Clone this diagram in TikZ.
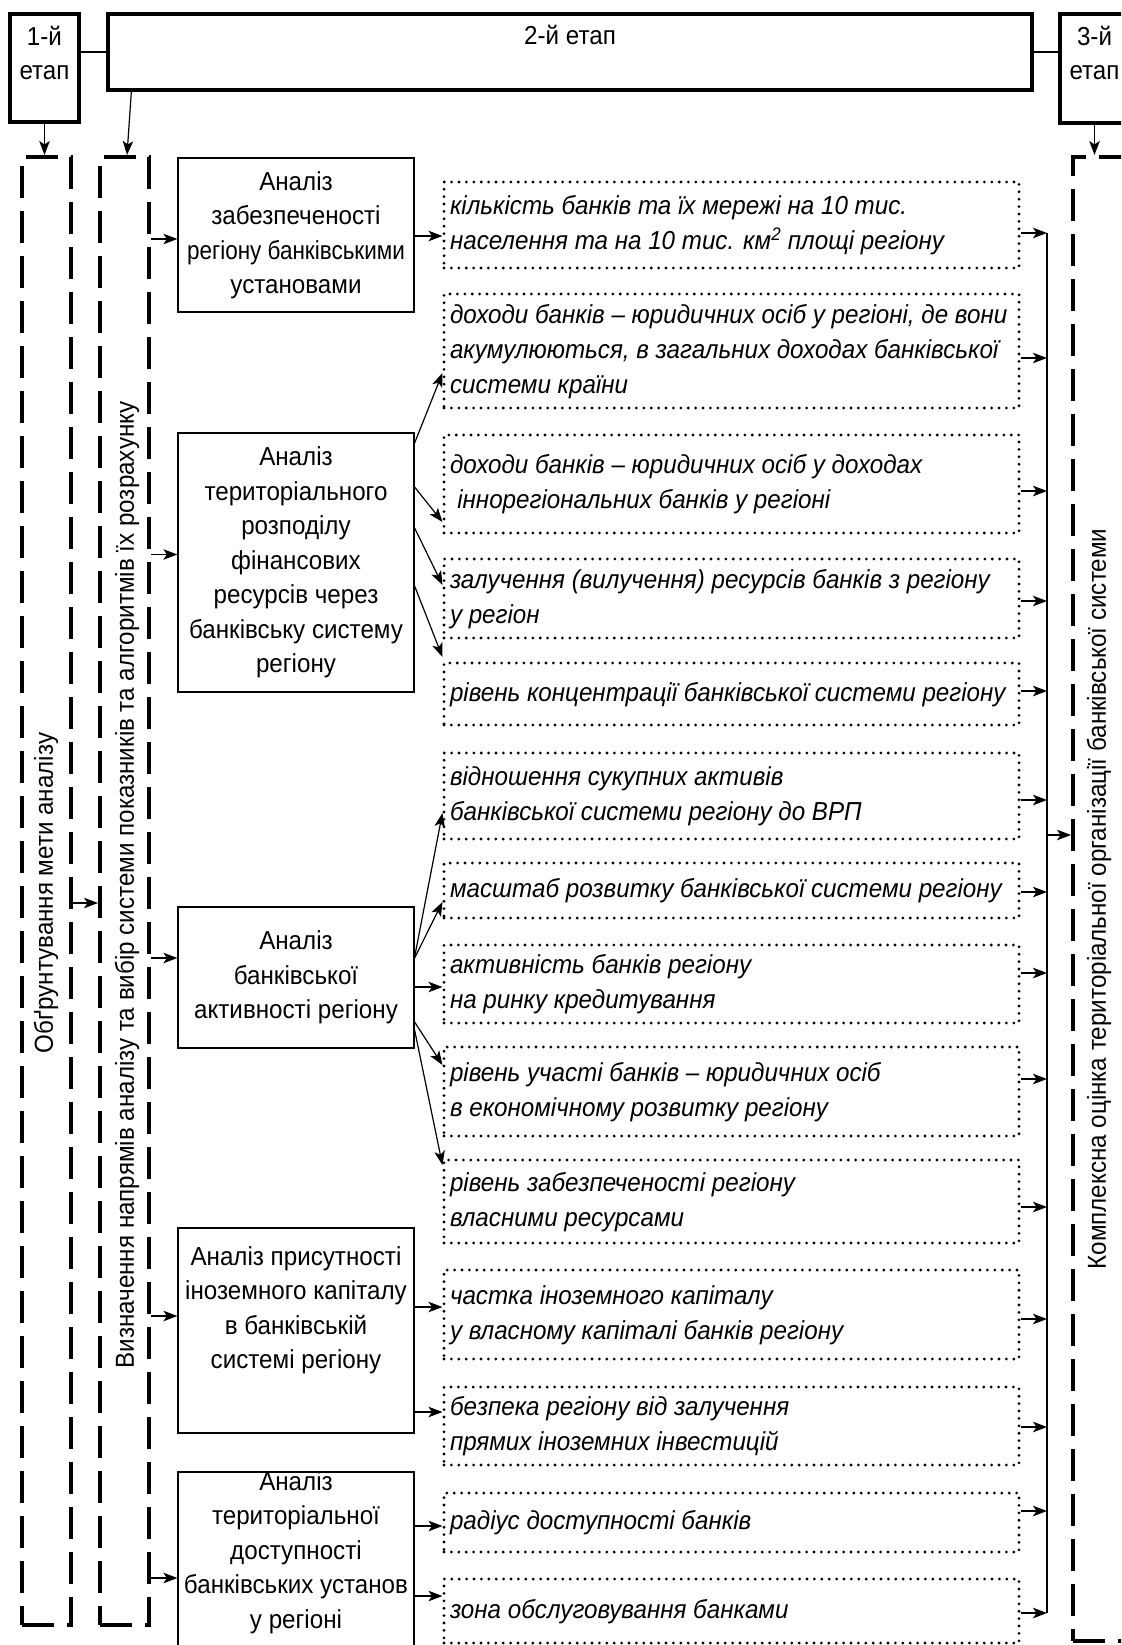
\documentclass[tikz,border=0pt]{standalone}
\usepackage{fontspec}
\usepackage{graphicx}
\setmainfont{Liberation Sans}[FakeStretch=0.93]
\usetikzlibrary{arrows.meta}
\newcommand{\ctab}[1]{\begin{tabular}{@{}c@{}}#1\end{tabular}}
\newcommand{\ltab}[1]{\begin{tabular}{@{}l@{}}#1\end{tabular}}
\newcommand{\toptext}[4]{\parbox[c][#2pt][t]{#1pt}{\centering\vspace*{#3pt}\ctab{#4}}}
\begin{document}
\begin{tikzpicture}[x=1pt,y=-1pt,
  font=\fontsize{26pt}{34.5pt}\selectfont,
  stagebox/.style={draw, line width=3.3pt, inner sep=0pt},
  anbox/.style={draw, line width=1.2pt, inner sep=0pt, minimum width=236pt},
  dotbox/.style={draw, line width=3.1pt, line cap=round, dash pattern=on 0pt off 7.4pt,
                 inner xsep=6pt, inner ysep=0pt, font=\fontsize{26pt}{35pt}\selectfont\itshape},
  dashbox/.style={draw, line width=4pt, dash pattern=on 32pt off 13pt, inner sep=0pt},
  vlabel/.style={rotate=90, inner sep=0pt},
  ln/.style={line width=1.2pt},
  arr/.style={line width=1.2pt, -{Stealth[length=14pt,width=10.5pt,inset=3.5pt]}}]
\useasboundingbox (0,0) rectangle (1121,1645);
\clip (0,0) rectangle (1121,1645);

% stages
\node[stagebox] (S1) at (44.5,68) {\toptext{69}{108}{7}{1-й\\етап}};
\node[stagebox] (S2) at (570,52) {\toptext{924}{76}{6}{2-й етап}};
\node[stagebox] (S3) at (1094.5,68.5) {\toptext{69}{109}{7}{3-й\\етап}};
\draw[ln] (S2.west) -- (S2.west -| S1.east);
\draw[ln] (S2.east) -- (S2.east -| S3.west);

% dashed columns
\node[dashbox, minimum width=49pt, minimum height=1468pt] (B1) at (46.5,891) {};
\node[dashbox, minimum width=49pt, minimum height=1468pt] (B2) at (124.5,891) {};
\node[dashbox, minimum width=52pt, minimum height=1484pt] (B3) at (1099,899) {};
\node[vlabel] (T1) at (46,893) {Обґрунтування мети аналізу};
\node[vlabel] (T2) at (127,885) {Визначення напрямів аналізу та вибір системи показників та алгоритмів їх розрахунку};
\node[vlabel] (T3) at (1099,899) {Комплексна оцінка територіальної організації банківської системи};

\draw[arr] (S1.south) -- (S1.south |- B1.north);
\draw[arr] ([xshift=25pt]S2.south west) -- ([xshift=29pt]B2.north west);
\draw[arr] (S3.south) -- (S3.south |- B3.north);
\draw[arr] ([yshift=-12pt]B1.east) -- ([yshift=-12pt]B1.east -| B2.west);

% analysis boxes
\node[anbox, minimum height=154pt] (A1) at (296,235) {\ctab{Аналіз\\забезпеченості\\\scalebox{0.93}[1]{регіону банківськими}\\установами}};
\node[anbox, minimum height=259pt] (A2) at (296,562.5) {\ctab{Аналіз\\територіального\\розподілу\\фінансових\\ресурсів через\\банківську систему\\регіону}};
\node[anbox, minimum height=141pt] (A3) at (296,977.5) {\ctab{Аналіз\\банківської\\активності регіону}};
\node[anbox] (A4) at (296,1330.5) {\toptext{236}{205}{13}{Аналіз присутності\\іноземного капіталу\\в банківській\\системі регіону}};
\node[anbox] (A5) at (296,1576) {\toptext{236}{208}{-6}{Аналіз\\територіальної\\доступності\\банківських установ\\у регіоні}};

\foreach \a/\s in {A1/-4, A2/8, A3/19.5, A4/14.5, A5/-2}
  \draw[arr] ([yshift=\s pt]\a.west -| B2.east) -- ([yshift=\s pt]\a.west);

% indicator boxes
\node[dotbox, minimum height=86pt] (D1) at (731.5,225) {\parbox{563pt}{\ltab{кількість банків та їх мережі на 10 тис.\\населення та на 10 тис. км\textsuperscript{2} площі регіону}}};
\node[dotbox, minimum height=114pt] (D2) at (731.5,351) {\parbox{563pt}{\ltab{доходи банків – юридичних осіб у регіоні, де вони\\акумулюються, в загальних доходах банківської\\системи країни}}};
\node[dotbox, minimum height=98pt] (D3) at (731.5,484) {\parbox{563pt}{\ltab{доходи банків – юридичних осіб у доходах\\\hspace*{0.28em}іннорегіональних банків у регіоні}}};
\node[dotbox, minimum height=79pt] (D4) at (731.5,598.5) {\parbox{563pt}{\ltab{залучення (вилучення) ресурсів банків з регіону\\у регіон}}};
\node[dotbox, minimum height=62pt] (D5) at (731.5,694) {\parbox{563pt}{\ltab{рівень концентрації банківської системи регіону}}};
\node[dotbox, minimum height=86pt] (D6) at (731.5,796) {\parbox{563pt}{\ltab{відношення сукупних активів\\банківської системи регіону до ВРП}}};
\node[dotbox, minimum height=55pt] (D7) at (731.5,890.5) {\parbox{563pt}{\ltab{масштаб розвитку банківської системи регіону}}};
\node[dotbox, minimum height=78pt] (D8) at (731.5,984) {\parbox{563pt}{\ltab{активність банків регіону\\на ринку кредитування}}};
\node[dotbox, minimum height=89pt] (D9) at (731.5,1091.5) {\parbox{563pt}{\ltab{рівень участі банків – юридичних осіб\\в економічному розвитку регіону}}};
\node[dotbox, minimum height=83pt] (D10) at (731.5,1201.5) {\parbox{563pt}{\ltab{рівень забезпеченості регіону\\власними ресурсами}}};
\node[dotbox, minimum height=89pt] (D11) at (731.5,1314.5) {\parbox{563pt}{\ltab{частка іноземного капіталу\\у власному капіталі банків регіону}}};
\node[dotbox, minimum height=78pt] (D12) at (731.5,1426) {\parbox{563pt}{\ltab{безпека регіону від залучення\\прямих іноземних інвестицій}}};
\node[dotbox, minimum height=59pt] (D13) at (731.5,1522.5) {\parbox{563pt}{\ltab{радіус доступності банків}}};
\node[dotbox, minimum height=64pt] (D14) at (731.5,1611) {\parbox{563pt}{\ltab{зона обслуговування банками}}};

% analysis -> indicators
\draw[arr] ([yshift=-1pt]A1.east) -- ([yshift=-1pt]A1.east -| D1.west);
\draw[arr] ([yshift=119.5pt]A2.east) -- ([yshift=-22pt]D2.west);
\draw[arr] ([yshift=75.5pt]A2.east) -- ([yshift=-38pt]D3.west);
\draw[arr] ([yshift=34.5pt]A2.east) -- ([yshift=13.5pt]D4.west);
\draw[arr] ([yshift=-23.5pt]A2.east) -- ([yshift=37pt]D5.west);
\draw[arr] ([yshift=20.5pt]A3.east) -- ([yshift=-17pt]D6.west);
\draw[arr] ([yshift=19.5pt]A3.east) -- ([yshift=-11.5pt]D7.west);
\draw[arr] ([yshift=-9.5pt]A3.east) -- ([yshift=-9.5pt]A3.east -| D8.west);
\draw[arr] ([yshift=-44.5pt]A3.east) -- ([yshift=26.5pt]D9.west);
\draw[arr] ([yshift=-52.5pt]A3.east) -- ([yshift=36.5pt]D10.west);
\draw[arr] ([yshift=23.5pt]A4.east) -- ([yshift=23.5pt]A4.east -| D11.west);
\draw[arr] ([yshift=-81.5pt]A4.east) -- ([yshift=-81.5pt]A4.east -| D12.west);
\draw[arr] ([yshift=50pt]A5.east) -- ([yshift=50pt]A5.east -| D13.west);
\draw[arr] ([yshift=-20pt]A5.east) -- ([yshift=-20pt]A5.east -| D14.west);

% collector
\coordinate (Ct) at (1047,233);
\coordinate (Cb) at (1047,1613);
\draw[ln] (Ct) -- (Cb);
\foreach \d/\s in {D1/-8, D2/-7, D3/-7, D4/-2.5, D5/3, D6/-4, D7/-1.5, D8/11, D9/12.5, D10/-5.5, D11/-4.5, D12/-1, D13/11.5, D14/-2}
  \draw[arr] ([yshift=\s pt]\d.east) -- ([yshift=\s pt]\d.east -| Ct);
\draw[arr] ([yshift=64pt]B3.west -| Ct) -- ([yshift=64pt]B3.west);
\end{tikzpicture}
\end{document}
